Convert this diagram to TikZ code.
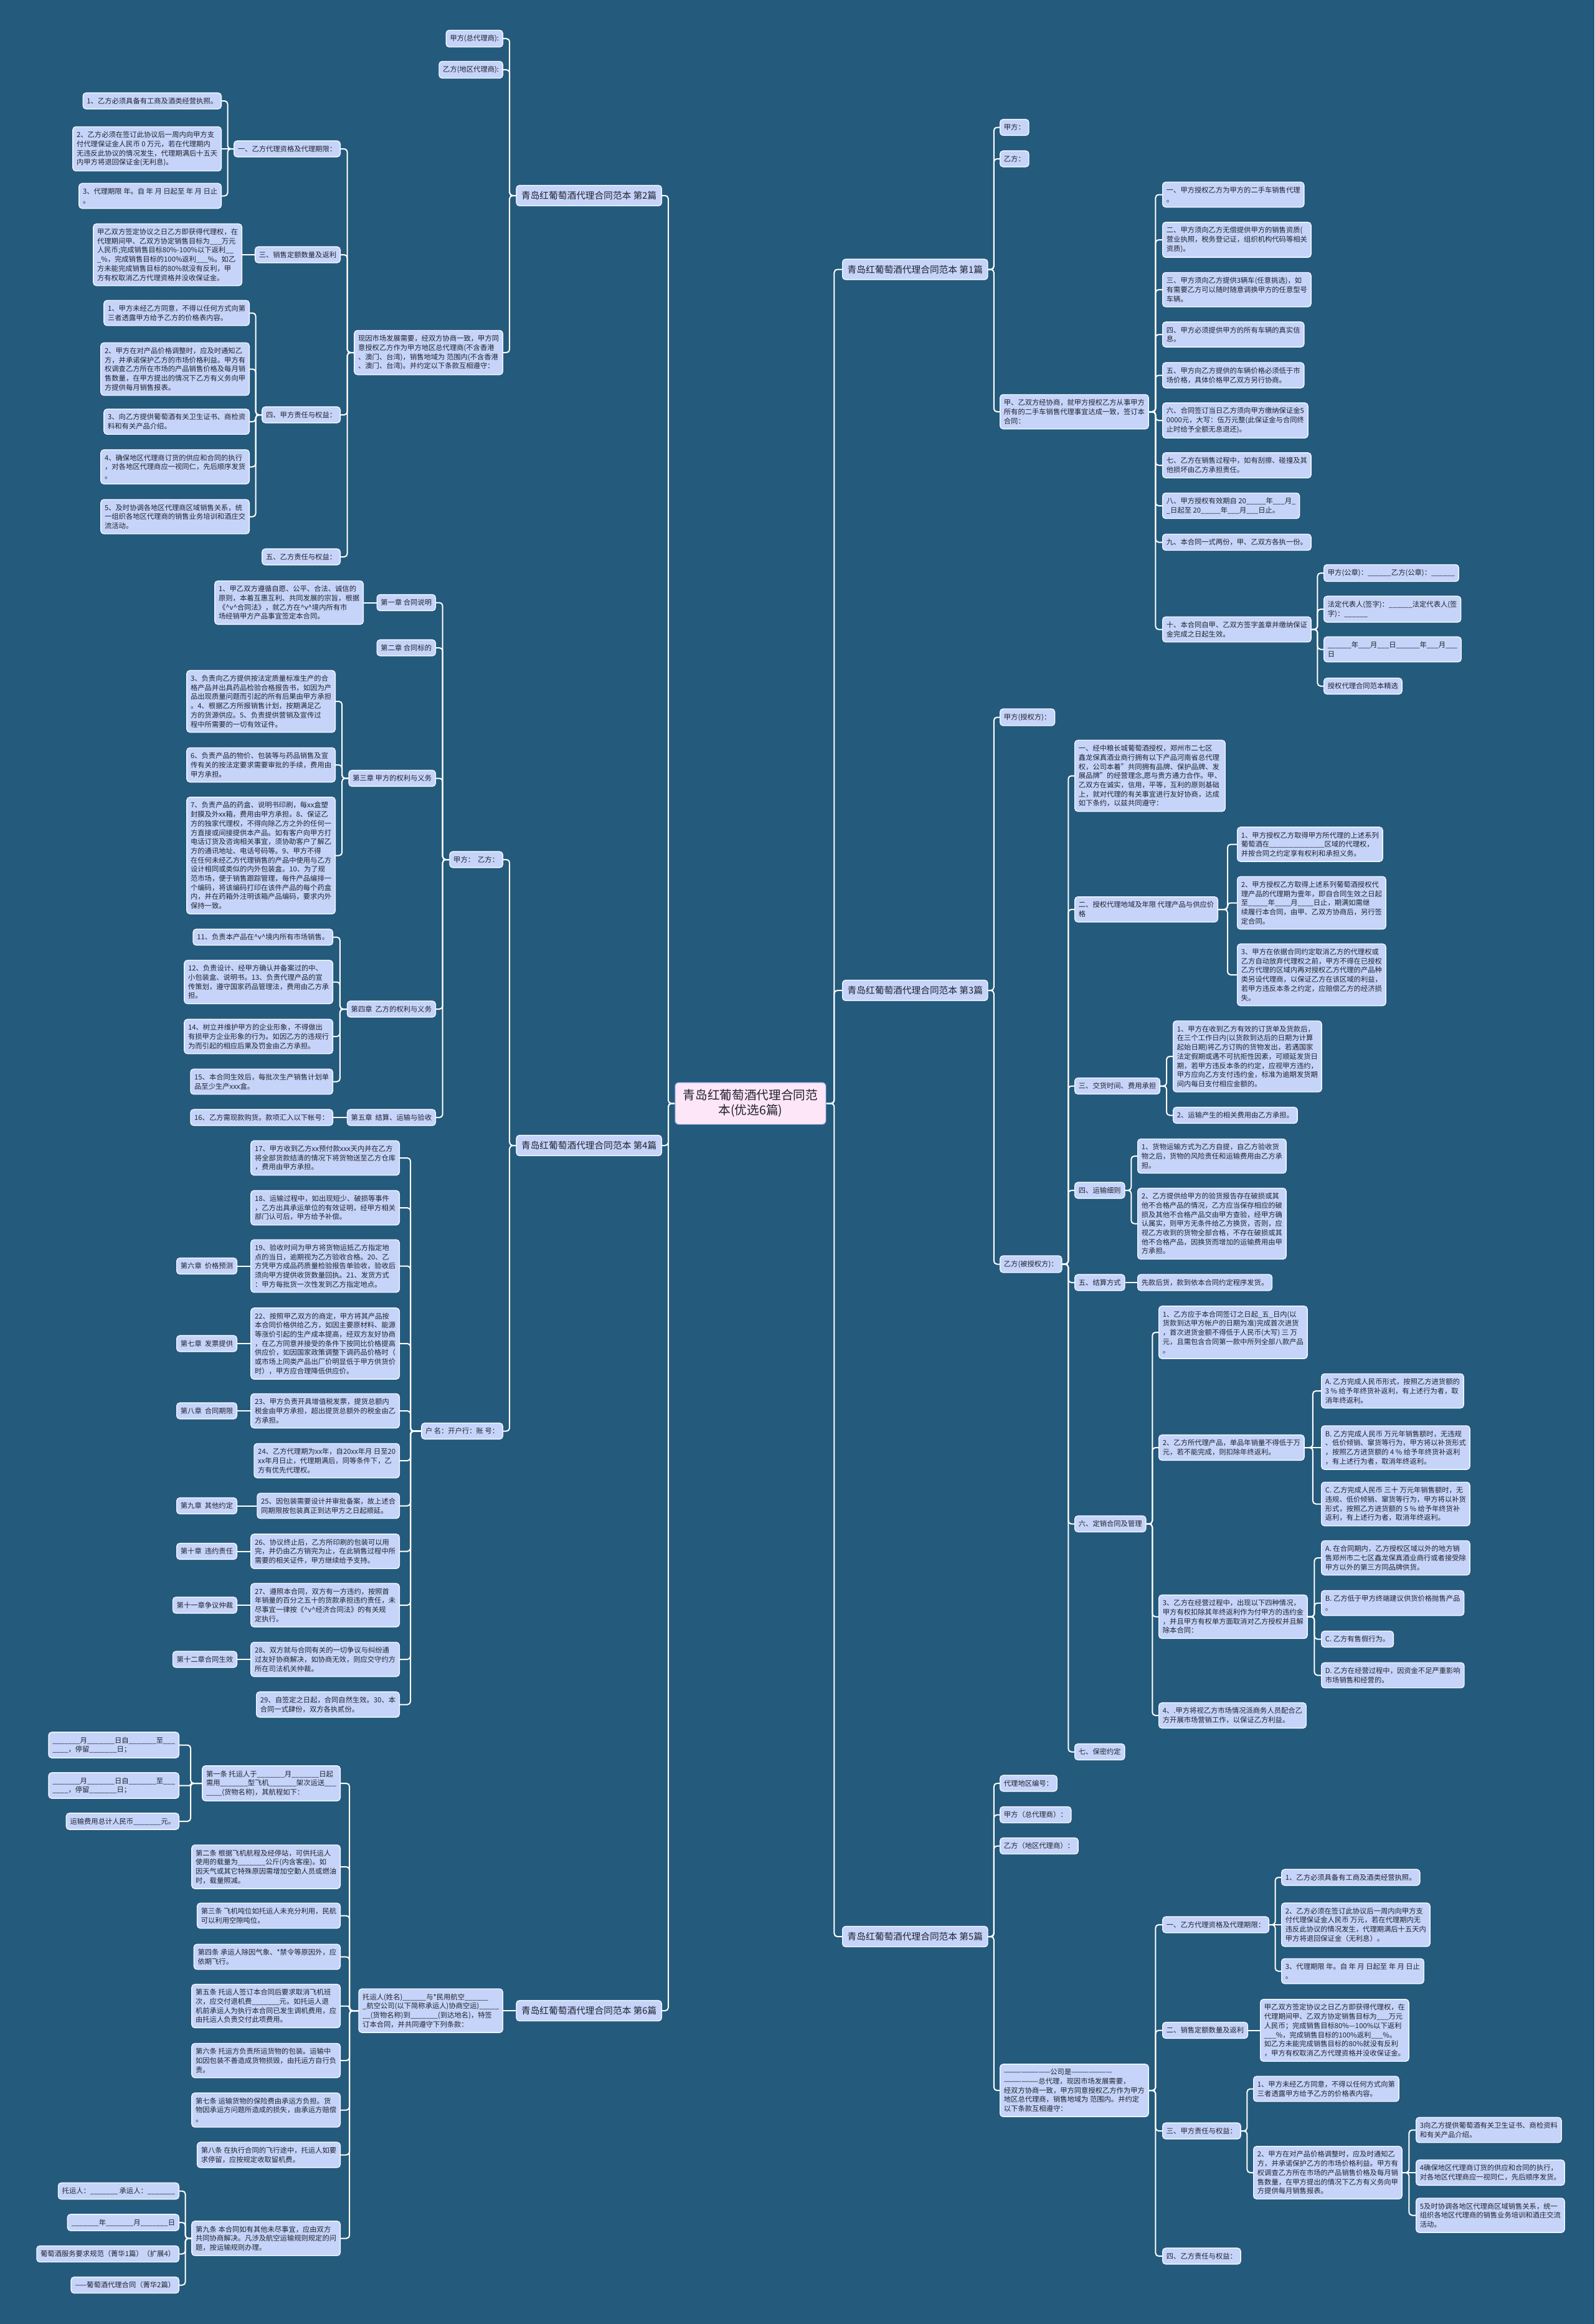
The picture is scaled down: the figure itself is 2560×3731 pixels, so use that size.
\documentclass[tikz,border=0pt]{standalone}
\usepackage{fontspec}
\setmainfont{Noto Sans CJK SC}
\usetikzlibrary{calc}
\definecolor{bg}{HTML}{245A7B}
\definecolor{boxfill}{HTML}{C5D4F8}
\definecolor{boxline}{HTML}{F4F7FF}
\definecolor{txt}{HTML}{222230}
\definecolor{ctrfill}{HTML}{FCE6F8}
\definecolor{ctrline}{HTML}{5C82C4}
\newcommand{\vv}{\textasciicircum v\textasciicircum}
\newcommand{\lkR}[2]{\draw[conn] let \p1=(#1.east), \p2=(#2.west), \n1={min(2.5pt,abs(\y2-\y1)/2.2)} in [rounded corners=\n1] (\p1) -- ({(\x1+\x2)/2},\y1) -- ({(\x1+\x2)/2},\y2) -- (\p2);}
\newcommand{\lkL}[2]{\draw[conn] let \p1=(#1.west), \p2=(#2.east), \n1={min(2.5pt,abs(\y2-\y1)/2.2)} in [rounded corners=\n1] (\p1) -- ({(\x1+\x2)/2},\y1) -- ({(\x1+\x2)/2},\y2) -- (\p2);}
\tikzset{
  bx/.style={draw=boxline, fill=boxfill, rounded corners=2.5pt, line width=0.7pt, text=txt,
    font=\fontsize{5.65}{7.35}\selectfont, inner xsep=3.1pt, inner ysep=3.8pt, align=left},
  br/.style={bx, font=\fontsize{7.35}{9}\selectfont, inner xsep=4pt, inner ysep=4.8pt},
  ctr/.style={draw=ctrline, fill=ctrfill, rounded corners=3pt, line width=0.6pt, text=txt,
    font=\fontsize{9.85}{12}\selectfont, inner xsep=6.5pt, inner ysep=5.8pt, align=center},
  conn/.style={draw=white, line width=1pt}
}
\begin{document}
\begin{tikzpicture}[x=0.5pt,y=-0.5pt]
\fill[bg] (0,0) rectangle (2560,3731);
\useasboundingbox (0,0) rectangle (2560,3731);

% ---------- centre ----------
\node[ctr] (c) at (1205,1771.5) {青岛红葡萄酒代理合同范\\本(优选6篇)};

% ---------- branch 2 (left, top) ----------
\node[br,anchor=east] (b2) at (1063,314) {青岛红葡萄酒代理合同范本 第2篇};
\node[bx,anchor=east] (b2a) at (808,62) {甲方(总代理商):};
\node[bx,anchor=east] (b2b) at (808,112) {乙方(地区代理商):};
\node[bx,anchor=east] (b2c) at (808,566) {现因市场发展需要，经双方协商一致，甲方同\\意授权乙方作为甲方地区总代理商(不含香港\\、澳门、台湾)，销售地域为 范围内(不含香港\\、澳门、台湾)。并约定以下条款互相遵守：};
\node[bx,anchor=east] (b2c1) at (547,239) {一、乙方代理资格及代理期限：};
\node[bx,anchor=east] (b2c3) at (547,409) {三、销售定额数量及返利};
\node[bx,anchor=east] (b2c4) at (547,666) {四、甲方责任与权益：};
\node[bx,anchor=east] (b2c5) at (547,894) {五、乙方责任与权益：};
\node[bx,anchor=east] (b2c1a) at (356,162) {1、乙方必须具备有工商及酒类经营执照。};
\node[bx,anchor=east] (b2c1b) at (356,239) {2、乙方必须在签订此协议后一周内向甲方支\\付代理保证金人民币 0 万元，若在代理期内\\无违反此协议的情况发生，代理期满后十五天\\内甲方将退回保证金(无利息)。};
\node[bx,anchor=east] (b2c1c) at (356,314.5) {3、代理期限 年。自 年 月 日起至 年 月 日止\\。};
\node[bx,anchor=east] (b2c3a) at (389,409) {甲乙双方签定协议之日乙方即获得代理权，在\\代理期间甲、乙双方协定销售目标为\_\_\_万元\\人民币;完成销售目标80\%-100\%以下返利\_\_\\\_\%，完成销售目标的100\%返利\_\_\_\%。如乙\\方未能完成销售目标的80\%就没有反利，甲\\方有权取消乙方代理资格并没收保证金。};
\node[bx,anchor=east] (b2c4a) at (401,502.5) {1、甲方未经乙方同意，不得以任何方式向第\\三者透露甲方给予乙方的价格表内容。};
\node[bx,anchor=east] (b2c4b) at (401,592.5) {2、甲方在对产品价格调整时，应及时通知乙\\方，并承诺保护乙方的市场价格利益。甲方有\\权调查乙方所在市场的产品销售价格及每月销\\售数量，在甲方提出的情况下乙方有义务向甲\\方提供每月销售报表。};
\node[bx,anchor=east] (b2c4c) at (401,677) {3、向乙方提供葡萄酒有关卫生证书、商检资\\料和有关产品介绍。};
\node[bx,anchor=east] (b2c4d) at (401,749.5) {4、确保地区代理商订货的供应和合同的执行\\，对各地区代理商应一视同仁，先后顺序发货\\。};
\node[bx,anchor=east] (b2c4e) at (401,829.5) {5、及时协调各地区代理商区域销售关系，统\\一组织各地区代理商的销售业务培训和酒庄交\\流活动。};

% ---------- branch 4 (left, middle) ----------
\node[br,anchor=east] (b4) at (1063,1839) {青岛红葡萄酒代理合同范本 第4篇};
\node[bx,anchor=east] (b4a) at (808,1380) {甲方：\ \ 乙方：};
\node[bx,anchor=east] (b4b) at (808,2297.5) {户\ 名：开户行：账\ 号：};
\node[bx,anchor=east] (ch1) at (700,967.5) {第一章 合同说明};
\node[bx,anchor=east] (ch2) at (700,1040) {第二章 合同标的};
\node[bx,anchor=east] (ch3) at (700,1249.5) {第三章 甲方的权利与义务};
\node[bx,anchor=east] (ch4) at (700,1620) {第四章\ \ 乙方的权利与义务};
\node[bx,anchor=east] (ch5) at (700,1794) {第五章\ \ 结算、运输与验收};
\node[bx,anchor=east] (c1a) at (584,967.5) {1、甲乙双方遵循自愿、公平、合法、诚信的\\原则，本着互惠互利、共同发展的宗旨，根据\\《\vv{}合同法》，就乙方在\vv{}境内所有市\\场经销甲方产品事宜签定本合同。};
\node[bx,anchor=east] (c3a) at (539,1126) {3、负责向乙方提供按法定质量标准生产的合\\格产品并出具药品检验合格报告书，如因为产\\品出现质量问题而引起的所有后果由甲方承担\\。4、根据乙方所报销售计划，按期满足乙\\方的货源供应。5、负责提供营销及宣传过\\程中所需要的一切有效证件。};
\node[bx,anchor=east] (c3b) at (539,1228) {6、负责产品的物价、包装等与药品销售及宣\\传有关的按法定要求需要审批的手续，费用由\\甲方承担。};
\node[bx,anchor=east] (c3c) at (539,1373.5) {7、负责产品的药盒、说明书印刷，每xx盒塑\\封膜及外xx箱，费用由甲方承担。8、保证乙\\方的独家代理权，不得向除乙方之外的任何一\\方直接或间接提供本产品。如有客户向甲方打\\电话订货及咨询相关事宜，须协助客户了解乙\\方的通讯地址、电话号码等。9、甲方不得\\在任何未经乙方代理销售的产品中使用与乙方\\设计相同或类似的内外包装盒。10、为了规\\范市场，便于销售跟踪管理，每件产品编排一\\个编码，将该编码打印在该件产品的每个药盒\\内，并在药箱外注明该箱产品编码，要求内外\\保持一致。};
\node[bx,anchor=east] (c4a) at (535,1504.5) {11、负责本产品在\vv{}境内所有市场销售。};
\node[bx,anchor=east] (c4b) at (535,1576.5) {12、负责设计、经甲方确认并备案过的中、\\小包装盒、说明书。13、负责代理产品的宣\\传策划，遵守国家药品管理法，费用由乙方承\\担。};
\node[bx,anchor=east] (c4c) at (535,1664) {14、树立并维护甲方的企业形象，不得做出\\有损甲方企业形象的行为。如因乙方的违规行\\为而引起的相应后果及罚金由乙方承担。};
\node[bx,anchor=east] (c4d) at (535,1736.5) {15、本合同生效后，每批次生产销售计划单\\品至少生产xxx盒。};
\node[bx,anchor=east] (c5a) at (535,1794) {16、乙方需现款购货。款项汇入以下帐号：};

\node[bx,anchor=east] (k17) at (642,1859) {17、甲方收到乙方xx预付款xxx天内并在乙方\\将全部货款结清的情况下将货物送至乙方仓库\\，费用由甲方承担。};
\node[bx,anchor=east] (k18) at (642,1939) {18、运输过程中，如出现短少、破损等事件\\，乙方出具承运单位的有效证明，经甲方相关\\部门认可后，甲方给予补偿。};
\node[bx,anchor=east] (k19) at (642,2032.5) {19、验收时间为甲方将货物运抵乙方指定地\\点的当日，逾期视为乙方验收合格。20、乙\\方凭甲方成品药质量检验报告单验收，验收后\\须向甲方提供收货数量回执。21、发货方式\\：甲方每批货一次性发到乙方指定地点。};
\node[bx,anchor=east] (k22) at (642,2157) {22、按照甲乙双方的商定，甲方将其产品按\\本合同价格供给乙方，如因主要原材料、能源\\等涨价引起的生产成本提高，经双方友好协商\\，在乙方同意并接受的条件下按同比价格提高\\供应价，如因国家政策调整下调药品价格时（\\或市场上同类产品出厂价明显低于甲方供货价\\时），甲方应合理降低供应价。};
\node[bx,anchor=east] (k23) at (642,2265) {23、甲方负责开具增值税发票，提货总额内\\税金由甲方承担，超出提货总额外的税金由乙\\方承担。};
\node[bx,anchor=east] (k24) at (642,2345) {24、乙方代理期为xx年，自20xx年月 日至20\\xx年月日止，代理期满后，同等条件下，乙\\方有优先代理权。};
\node[bx,anchor=east] (k25) at (642,2417.5) {25、因包装需要设计并审批备案，故上述合\\同期限按包装真正到达甲方之日起顺延。};
\node[bx,anchor=east] (k26) at (642,2490.5) {26、协议终止后，乙方所印刷的包装可以用\\完，并仍由乙方销完为止，在此销售过程中所\\需要的相关证件，甲方继续给予支持。};
\node[bx,anchor=east] (k27) at (642,2577) {27、遵照本合同，双方有一方违约，按照首\\年销量的百分之五十的货款承担违约责任，未\\尽事宜一律按《\vv{}经济合同法》的有关规\\定执行。};
\node[bx,anchor=east] (k28) at (642,2664) {28、双方就与合同有关的一切争议与纠纷通\\过友好协商解决，如协商无效，则应交守约方\\所在司法机关仲裁。};
\node[bx,anchor=east] (k29) at (642,2736.5) {29、自签定之日起，合同自然生效。30、本\\合同一式肆份，双方各执贰份。};

\node[bx,anchor=east] (ch6) at (381,2032.5) {第六章\ \ 价格预测};
\node[bx,anchor=east] (ch7) at (381,2157) {第七章\ \ 发票提供};
\node[bx,anchor=east] (ch8) at (381,2265) {第八章\ \ 合同期限};
\node[bx,anchor=east] (ch9) at (381,2417.5) {第九章\ \ 其他约定};
\node[bx,anchor=east] (ch10) at (381,2490.5) {第十章\ \ 违约责任};
\node[bx,anchor=east] (ch11) at (381,2577) {第十一章争议仲裁};
\node[bx,anchor=east] (ch12) at (381,2664) {第十二章合同生效};

% ---------- branch 6 (left, bottom) ----------
\node[br,anchor=east] (b6) at (1063,3228) {青岛红葡萄酒代理合同范本 第6篇};
\node[bx,anchor=east] (b6a) at (808,3228) {托运人(姓名)\_\_\_\_\_\_与*民用航空\_\_\_\_\_\_\\\_航空公司(以下简称承运人)协商空运)\_\_\_\_\_\\\_\_(货物名称)到\_\_\_\_\_\_\_(到达地名)，特签\\订本合同，并共同遵守下列条款：};
\node[bx,anchor=east] (t1) at (547,2863) {第一条 托运人于\_\_\_\_\_\_\_月\_\_\_\_\_\_\_日起\\需用\_\_\_\_\_\_\_型飞机\_\_\_\_\_\_\_架次运送\_\_\_\\\_\_\_\_(货物名称)，其航程如下：};
\node[bx,anchor=east] (t2) at (547,2997) {第二条 根据飞机航程及经停站，可供托运人\\使用的载量为\_\_\_\_\_\_\_公斤(内含客座)。如\\因天气或其它特殊原因需增加空勤人员或燃油\\时，载量照减。};
\node[bx,anchor=east] (t3) at (547,3075.5) {第三条 飞机吨位如托运人未充分利用，民航\\可以利用空隙吨位。};
\node[bx,anchor=east] (t4) at (547,3141.5) {第四条 承运人除因气象、*禁令等原因外，应\\依期飞行。};
\node[bx,anchor=east] (t5) at (547,3220.5) {第五条 托运人签订本合同后要求取消飞机班\\次，应交付退机费\_\_\_\_\_\_\_元。如托运人退\\机前承运人为执行本合同已发生调机费用，应\\由托运人负责交付此项费用。};
\node[bx,anchor=east] (t6) at (547,3308) {第六条 托运方负责所运货物的包装。运输中\\如因包装不善造成货物损毁，由托运方自行负\\责。};
\node[bx,anchor=east] (t7) at (547,3387.5) {第七条 运输货物的保险费由承运方负担。货\\物因承运方问题所造成的损失，由承运方赔偿\\。};
\node[bx,anchor=east] (t8) at (547,3459.5) {第八条 在执行合同的飞行途中，托运人如要\\求停留，应按规定收取留机费。};
\node[bx,anchor=east] (t9) at (547,3593.5) {第九条 本合同如有其他未尽事宜，应由双方\\共同协商解决。凡涉及航空运输规则规定的问\\题，按运输规则办理。};
\node[bx,anchor=east] (t1a) at (288,2801.5) {\_\_\_\_\_\_\_月\_\_\_\_\_\_\_日自\_\_\_\_\_\_\_至\_\_\_\\\_\_\_\_，停留\_\_\_\_\_\_\_日；};
\node[bx,anchor=east] (t1b) at (288,2866.5) {\_\_\_\_\_\_\_月\_\_\_\_\_\_\_日自\_\_\_\_\_\_\_至\_\_\_\\\_\_\_\_，停留\_\_\_\_\_\_\_日；};
\node[bx,anchor=east] (t1c) at (288,2924) {运输费用总计人民币\_\_\_\_\_\_\_元。};
\node[bx,anchor=east] (t9a) at (288,3517.5) {托运人：\_\_\_\_\_\_\_\ 承运人：\_\_\_\_\_\_\_};
\node[bx,anchor=east] (t9b) at (288,3568) {\_\_\_\_\_\_\_年\_\_\_\_\_\_\_月\_\_\_\_\_\_\_日};
\node[bx,anchor=east] (t9c) at (288,3618.5) {葡萄酒服务要求规范（菁华1篇）（扩展4）};
\node[bx,anchor=east] (t9d) at (288,3668.5) {——葡萄酒代理合同（菁华2篇）};

% ---------- branch 1 (right, top) ----------
\node[br,anchor=west] (b1) at (1352,432.5) {青岛红葡萄酒代理合同范本 第1篇};
\node[bx,anchor=west] (r1a) at (1605,204.5) {甲方：};
\node[bx,anchor=west] (r1b) at (1605,255) {乙方：};
\node[bx,anchor=west] (r1c) at (1605,661) {甲、乙双方经协商，就甲方授权乙方从事甲方\\所有的二手车销售代理事宜达成一致，签订本\\合同：};
\node[bx,anchor=west] (p1) at (1866,312.5) {一、甲方授权乙方为甲方的二手车销售代理\\。};
\node[bx,anchor=west] (p2) at (1866,385) {二、甲方须向乙方无偿提供甲方的销售资质(\\营业执照，税务登记证，组织机构代码等相关\\资质)。};
\node[bx,anchor=west] (p3) at (1866,465) {三、甲方须向乙方提供3辆车(任意挑选)，如\\有需要乙方可以随时随意调换甲方的任意型号\\车辆。};
\node[bx,anchor=west] (p4) at (1866,537) {四、甲方必须提供甲方的所有车辆的真实信\\息。};
\node[bx,anchor=west] (p5) at (1866,602.5) {五、甲方向乙方提供的车辆价格必须低于市\\场价格，具体价格甲乙双方另行协商。};
\node[bx,anchor=west] (p6) at (1866,675) {六、合同签订当日乙方须向甲方缴纳保证金5\\0000元，大写：伍万元整(此保证金与合同终\\止时给予全额无息退还)。};
\node[bx,anchor=west] (p7) at (1866,747) {七、乙方在销售过程中，如有刮擦、碰撞及其\\他损坏由乙方承担责任。};
\node[bx,anchor=west] (p8) at (1866,812) {八、甲方授权有效期自 20\_\_\_\_\_年\_\_\_月\_\\\_日起至 20\_\_\_\_\_年\_\_\_月\_\_\_日止。};
\node[bx,anchor=west] (p9) at (1866,870.5) {九、本合同一式两份，甲、乙双方各执一份。};
\node[bx,anchor=west] (p10) at (1866,1010.5) {十、本合同自甲、乙双方签字盖章并缴纳保证\\金完成之日起生效。};
\node[bx,anchor=west] (q1) at (2125,920) {甲方(公章)：\_\_\_\_\_\_乙方(公章)：\_\_\_\_\_\_};
\node[bx,anchor=west] (q2) at (2125,978) {法定代表人(签字)：\_\_\_\_\_\_法定代表人(签\\字)：\_\_\_\_\_\_};
\node[bx,anchor=west] (q3) at (2125,1042.5) {\_\_\_\_\_\_年\_\_\_月\_\_\_日\_\_\_\_\_\_年\_\_\_月\_\_\_\\日};
\node[bx,anchor=west] (q4) at (2125,1101.5) {授权代理合同范本精选};

% ---------- branch 3 (right, middle) ----------
\node[br,anchor=west] (b3) at (1352,1590) {青岛红葡萄酒代理合同范本 第3篇};
\node[bx,anchor=west] (r3a) at (1605,1151.5) {甲方(授权方)：};
\node[bx,anchor=west] (r3b) at (1605,2029.5) {乙方(被授权方)：};
\node[bx,anchor=west] (s1) at (1725,1245.5) {一、经中粮长城葡萄酒授权，郑州市二七区\\鑫龙保真酒业商行拥有以下产品河南省总代理\\权，公司本着"共同拥有品牌、保护品牌、发\\展品牌"的经营理念,愿与贵方通力合作。甲、\\乙双方在诚实，信用，平等，互利的原则基础\\上，就对代理的有关事宜进行友好协商，达成\\如下条约，以兹共同遵守：};
\node[bx,anchor=west] (s2) at (1725,1460) {二、授权代理地域及年限 代理产品与供应价\\格};
\node[bx,anchor=west] (s3) at (1725,1743.5) {三、交货时间、费用承担};
\node[bx,anchor=west] (s4) at (1725,1911) {四、运输细则};
\node[bx,anchor=west] (s5) at (1725,2059) {五、结算方式};
\node[bx,anchor=west] (s6) at (1725,2446.5) {六、定销合同及管理};
\node[bx,anchor=west] (s7) at (1725,2812.5) {七、保密约定};
\node[bx,anchor=west] (s2a) at (1986,1355.5) {1、甲方授权乙方取得甲方所代理的上述系列\\葡萄酒在\_\_\_\_\_\_\_\_\_\_\_\_\_\_区域的代理权，\\并按合同之约定享有权利和承担义务。};
\node[bx,anchor=west] (s2b) at (1986,1449.5) {2、甲方授权乙方取得上述系列葡萄酒授权代\\理产品的代理期为壹年，即自合同生效之日起\\至\_\_\_\_\_年\_\_\_\_月\_\_\_\_日止，期满如需继\\续履行本合同，由甲、乙双方协商后，另行签\\定合同。};
\node[bx,anchor=west] (s2c) at (1986,1565) {3、甲方在依据合同约定取消乙方的代理权或\\乙方自动放弃代理权之前，甲方不得在已授权\\乙方代理的区域内再对授权乙方代理的产品种\\类另设代理商，以保证乙方在该区域的利益，\\若甲方违反本条之约定，应赔偿乙方的经济损\\失。};
\node[bx,anchor=west] (s3a) at (1883,1696) {1、甲方在收到乙方有效的订货单及货款后，\\在三个工作日内(以货款到达后的日期为计算\\起始日期)将乙方订购的货物发出，若遇国家\\法定假期或遇不可抗拒性因素，可顺延发货日\\期，若甲方违反本条的约定，应视甲方违约，\\甲方应向乙方支付违约金，标准为逾期发货期\\间内每日支付相应金额的。};
\node[bx,anchor=west] (s3b) at (1883,1790.5) {2、运输产生的相关费用由乙方承担。};
\node[bx,anchor=west] (s4a) at (1826,1856) {1、货物运输方式为乙方自提，自乙方验收货\\物之后，货物的风险责任和运输费用由乙方承\\担。};
\node[bx,anchor=west] (s4b) at (1826,1964.5) {2、乙方提供给甲方的验货报告存在破损或其\\他不合格产品的情况，乙方应当保存相应的破\\损及其他不合格产品交由甲方查验，经甲方确\\认属实，则甲方无条件给乙方换货，否则，应\\视乙方收到的货物全部合格，不存在破损或其\\他不合格产品，因换货而增加的运输费用由甲\\方承担。};
\node[bx,anchor=west] (s5a) at (1826,2059) {先款后货，款到依本合同约定程序发货。};
\node[bx,anchor=west] (s6a) at (1860,2139) {1、乙方应于本合同签订之日起\_五\_日内(以\\货款到达甲方帐户的日期为准)完成首次进货\\，首次进货金额不得低于人民币(大写) 三 万\\元，且需包含合同第一款中所列全部八款产品\\。};
\node[bx,anchor=west] (s6b) at (1860,2324) {2、乙方所代理产品，单品年销量不得低于万\\元，若不能完成，则扣除年终返利。};
\node[bx,anchor=west] (s6c) at (1860,2595.5) {3、乙方在经营过程中，出现以下四种情况，\\甲方有权扣除其年终返利作为付甲方的违约金\\，并且甲方有权单方面取消对乙方授权并且解\\除本合同：};
\node[bx,anchor=west] (s6d) at (1860,2754) {4、.甲方将视乙方市场情况派商务人员配合乙\\方开展市场营销工作，以保证乙方利益。};
\node[bx,anchor=west] (s6bA) at (2121,2233) {A. 乙方完成人民币形式，按照乙方进货额的\\3 \% 给予年终货补返利，有上述行为者，取\\消年终返利。};
\node[bx,anchor=west] (s6bB) at (2121,2324) {B. 乙方完成人民币 万元年销售额时，无违规\\、低价倾销、窜货等行为，甲方将以补货形式\\，按照乙方进货额的 4 \% 给予年终货补返利\\，有上述行为者，取消年终返利。};
\node[bx,anchor=west] (s6bC) at (2121,2414.5) {C. 乙方完成人民币 三十 万元年销售额时，无\\违规、低价倾销、窜货等行为，甲方将以补货\\形式，按照乙方进货额的 5 \% 给予年终货补\\返利，有上述行为者，取消年终返利。};
\node[bx,anchor=west] (s6cA) at (2121,2501) {A. 在合同期内，乙方授权区域以外的地方销\\售郑州市二七区鑫龙保真酒业商行或者接受除\\甲方以外的第三方同品牌供货。};
\node[bx,anchor=west] (s6cB) at (2121,2573.5) {B. 乙方低于甲方终端建议供货价格抛售产品\\。};
\node[bx,anchor=west] (s6cC) at (2121,2631.5) {C. 乙方有售假行为。};
\node[bx,anchor=west] (s6cD) at (2121,2689.5) {D. 乙方在经营过程中，因资金不足严重影响\\市场销售和经营的。};

% ---------- branch 5 (right, bottom) ----------
\node[br,anchor=west] (b5) at (1352,3109) {青岛红葡萄酒代理合同范本 第5篇};
\node[bx,anchor=west] (r5a) at (1605,2863) {代理地区编号：};
\node[bx,anchor=west] (r5b) at (1605,2913.5) {甲方（总代理商）：};
\node[bx,anchor=west] (r5c) at (1605,2963.5) {乙方（地区代理商）：};
\node[bx,anchor=west] (r5d) at (1605,3356) {————————公司是———————\\——————总代理，现因市场发展需要，\\经双方协商一致，甲方同意授权乙方作为甲方\\地区总代理商，销售地域为 范围内。并约定\\以下条款互相遵守：};
\node[bx,anchor=west] (u1) at (1866,3090) {一、乙方代理资格及代理期限：};
\node[bx,anchor=west] (u2) at (1866,3259.5) {二、销售定额数量及返利};
\node[bx,anchor=west] (u3) at (1866,3421) {三、甲方责任与权益：};
\node[bx,anchor=west] (u4) at (1866,3622) {四、乙方责任与权益：};
\node[bx,anchor=west] (u1a) at (2057,3014) {1、乙方必须具备有工商及酒类经营执照。};
\node[bx,anchor=west] (u1b) at (2057,3090) {2、乙方必须在签订此协议后一周内向甲方支\\付代理保证金人民币 万元，若在代理期内无\\违反此协议的情况发生，代理期满后十五天内\\甲方将退回保证金（无利息）。};
\node[bx,anchor=west] (u1c) at (2057,3164.5) {3、代理期限 年。自 年 月 日起至 年 月 日止\\。};
\node[bx,anchor=west] (u2a) at (2023,3259.5) {甲乙双方签定协议之日乙方即获得代理权，在\\代理期间甲、乙双方协定销售目标为\_\_\_万元\\人民币；完成销售目标80\%—100\%以下返利\\\_\_\_\%，完成销售目标的100\%返利\_\_\_\%。\\如乙方未能完成销售目标的80\%就没有反利\\，甲方有权取消乙方代理资格并没收保证金。};
\node[bx,anchor=west] (u3a) at (2012,3353.5) {1、甲方未经乙方同意，不得以任何方式向第\\三者透露甲方给予乙方的价格表内容。};
\node[bx,anchor=west] (u3b) at (2012,3488) {2、甲方在对产品价格调整时，应及时通知乙\\方，并承诺保护乙方的市场价格利益。甲方有\\权调查乙方所在市场的产品销售价格及每月销\\售数量，在甲方提出的情况下乙方有义务向甲\\方提供每月销售报表。};
\node[bx,anchor=west] (u3bA) at (2273,3419.5) {3向乙方提供葡萄酒有关卫生证书、商检资料\\和有关产品介绍。};
\node[bx,anchor=west] (u3bB) at (2273,3488) {4确保地区代理商订货的供应和合同的执行，\\对各地区代理商应一视同仁，先后顺序发货。};
\node[bx,anchor=west] (u3bC) at (2273,3556.5) {5及时协调各地区代理商区域销售关系，统一\\组织各地区代理商的销售业务培训和酒庄交流\\活动。};

% ---------- connectors ----------
\lkR{c}{b1} \lkR{c}{b3} \lkR{c}{b5}
\lkL{c}{b2} \lkL{c}{b4} \lkL{c}{b6}

\lkL{b2}{b2a} \lkL{b2}{b2b} \lkL{b2}{b2c}
\lkL{b2c}{b2c1} \lkL{b2c}{b2c3} \lkL{b2c}{b2c4} \lkL{b2c}{b2c5}
\lkL{b2c1}{b2c1a} \lkL{b2c1}{b2c1b} \lkL{b2c1}{b2c1c}
\lkL{b2c3}{b2c3a}
\lkL{b2c4}{b2c4a} \lkL{b2c4}{b2c4b} \lkL{b2c4}{b2c4c} \lkL{b2c4}{b2c4d} \lkL{b2c4}{b2c4e}

\lkL{b4}{b4a} \lkL{b4}{b4b}
\lkL{b4a}{ch1} \lkL{b4a}{ch2} \lkL{b4a}{ch3} \lkL{b4a}{ch4} \lkL{b4a}{ch5}
\lkL{ch1}{c1a}
\lkL{ch3}{c3a} \lkL{ch3}{c3b} \lkL{ch3}{c3c}
\lkL{ch4}{c4a} \lkL{ch4}{c4b} \lkL{ch4}{c4c} \lkL{ch4}{c4d}
\lkL{ch5}{c5a}
\lkL{b4b}{k17} \lkL{b4b}{k18} \lkL{b4b}{k19} \lkL{b4b}{k22} \lkL{b4b}{k23} \lkL{b4b}{k24}
\lkL{b4b}{k25} \lkL{b4b}{k26} \lkL{b4b}{k27} \lkL{b4b}{k28} \lkL{b4b}{k29}
\lkL{k19}{ch6} \lkL{k22}{ch7} \lkL{k23}{ch8} \lkL{k25}{ch9} \lkL{k26}{ch10} \lkL{k27}{ch11} \lkL{k28}{ch12}

\lkL{b6}{b6a}
\lkL{b6a}{t1} \lkL{b6a}{t2} \lkL{b6a}{t3} \lkL{b6a}{t4} \lkL{b6a}{t5} \lkL{b6a}{t6} \lkL{b6a}{t7} \lkL{b6a}{t8} \lkL{b6a}{t9}
\lkL{t1}{t1a} \lkL{t1}{t1b} \lkL{t1}{t1c}
\lkL{t9}{t9a} \lkL{t9}{t9b} \lkL{t9}{t9c} \lkL{t9}{t9d}

\lkR{b1}{r1a} \lkR{b1}{r1b} \lkR{b1}{r1c}
\lkR{r1c}{p1} \lkR{r1c}{p2} \lkR{r1c}{p3} \lkR{r1c}{p4} \lkR{r1c}{p5}
\lkR{r1c}{p6} \lkR{r1c}{p7} \lkR{r1c}{p8} \lkR{r1c}{p9} \lkR{r1c}{p10}
\lkR{p10}{q1} \lkR{p10}{q2} \lkR{p10}{q3} \lkR{p10}{q4}

\lkR{b3}{r3a} \lkR{b3}{r3b}
\lkR{r3b}{s1} \lkR{r3b}{s2} \lkR{r3b}{s3} \lkR{r3b}{s4} \lkR{r3b}{s5} \lkR{r3b}{s6} \lkR{r3b}{s7}
\lkR{s2}{s2a} \lkR{s2}{s2b} \lkR{s2}{s2c}
\lkR{s3}{s3a} \lkR{s3}{s3b}
\lkR{s4}{s4a} \lkR{s4}{s4b}
\lkR{s5}{s5a}
\lkR{s6}{s6a} \lkR{s6}{s6b} \lkR{s6}{s6c} \lkR{s6}{s6d}
\lkR{s6b}{s6bA} \lkR{s6b}{s6bB} \lkR{s6b}{s6bC}
\lkR{s6c}{s6cA} \lkR{s6c}{s6cB} \lkR{s6c}{s6cC} \lkR{s6c}{s6cD}

\lkR{b5}{r5a} \lkR{b5}{r5b} \lkR{b5}{r5c} \lkR{b5}{r5d}
\lkR{r5d}{u1} \lkR{r5d}{u2} \lkR{r5d}{u3} \lkR{r5d}{u4}
\lkR{u1}{u1a} \lkR{u1}{u1b} \lkR{u1}{u1c}
\lkR{u2}{u2a}
\lkR{u3}{u3a} \lkR{u3}{u3b}
\lkR{u3b}{u3bA} \lkR{u3b}{u3bB} \lkR{u3b}{u3bC}
\end{tikzpicture}
\end{document}
